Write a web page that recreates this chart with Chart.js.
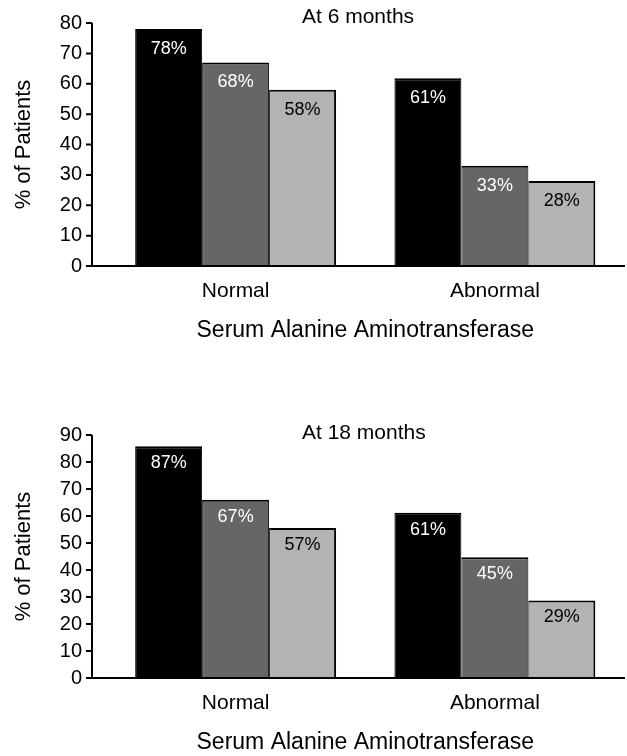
<!DOCTYPE html>
<html>
<head>
<meta charset="utf-8">
<script src="https://cdn.jsdelivr.net/npm/chart.js@4"></script>
<style>
    body { margin: 0; background: #fff; }
    .panel { position: absolute; left: 0; width: 627px; height: 344px; }
</style>
</head>
<body>
<div class="panel" style="top:0"><canvas id="chart6" width="627" height="344"></canvas></div>
<div class="panel" style="top:412px"><canvas id="chart18" width="627" height="344"></canvas></div>
<script>
const categories = ['Normal', 'Abnormal'];
const barColors = ['#000000', '#666666', '#b3b3b3'];
const textColors = ['#ffffff', '#ffffff', '#000000'];

// At 6 months: bar heights as drawn, and the printed percentages
const bars6Black = [78, 61.8];
const bars6Dark = [67, 33];
const bars6Light = [58, 28];
const pct6Black = [78, 61];
const pct6Dark = [68, 33];
const pct6Light = [58, 28];

// At 18 months
const bars18Black = [85.8, 61.2];
const bars18Dark = [66, 44.7];
const bars18Light = [55.6, 28.7];
const pct18Black = [87, 61];
const pct18Dark = [67, 45];
const pct18Light = [57, 29];

const yMax6 = 80;
const yMax18 = 90;
const yStep = 10;

const FONT = 'Liberation Sans, Arial, Helvetica, sans-serif';

// axis lines drawn a little left of the bars, like the original
const axisLines = {
    id: 'axisLines',
    afterDraw(chart) {
        const { ctx, chartArea } = chart;
        const y = chart.scales.y;
        const x0 = chartArea.left - 14;
        const y0 = y.getPixelForValue(0);
        ctx.save();
        ctx.strokeStyle = '#000';
        ctx.lineWidth = 2;
        ctx.beginPath();
        ctx.moveTo(x0, y.getPixelForValue(y.max));
        ctx.lineTo(x0, y0);
        ctx.lineTo(chart.width - 2, y0);
        y.ticks.forEach((t) => {
            const py = y.getPixelForValue(t.value);
            ctx.moveTo(x0 - 6, py);
            ctx.lineTo(x0, py);
        });
        ctx.stroke();
        ctx.restore();
    },
};

const barLabels = {
    id: 'barLabels',
    afterDatasetsDraw(chart, args, opts) {
        const ctx = chart.ctx;
        ctx.save();
        ctx.font = '18px ' + FONT;
        ctx.textAlign = 'center';
        ctx.textBaseline = 'middle';
        chart.data.datasets.forEach((ds, i) => {
            chart.getDatasetMeta(i).data.forEach((bar, j) => {
                ctx.fillStyle = ds.textColor;
                ctx.fillText(ds.pct[j] + '%', bar.x, bar.y + opts.offset);
            });
        });
        // panel heading
        ctx.font = '21px ' + FONT;
        ctx.textAlign = 'left';
        ctx.fillStyle = '#000';
        ctx.fillText(opts.title, 302, opts.titleY);
        ctx.restore();
    },
};

function makeChart(id, black, dark, light, pBlack, pDark, pLight, yMax, title, titleY, offset) {
    const vals = [black, dark, light];
    const pcts = [pBlack, pDark, pLight];
    new Chart(document.getElementById(id), {
        type: 'bar',
        data: {
            labels: categories,
            datasets: vals.map((v, i) => ({
                data: v,
                pct: pcts[i],
                textColor: textColors[i],
                backgroundColor: barColors[i],
                borderColor: '#000',
                borderWidth: { left: 1, right: i == 2 ? 2 : 1, top: 2, bottom: 0 },
                borderSkipped: 'start',
                barPercentage: 1,
                categoryPercentage: 0.775,
            })),
        },
        options: {
            responsive: false,
            animation: false,
            layout: { padding: { top: 23, right: 2.5, left: 0, bottom: 0 } },
            plugins: {
                legend: { display: false },
                tooltip: { enabled: false },
                barLabels: { title: title, titleY: titleY, offset: offset },
            },
            scales: {
                x: {
                    grid: { display: false, drawTicks: false },
                    border: { display: false },
                    ticks: { color: '#000', padding: 13, font: { family: FONT, size: 21 } },
                    title: {
                        display: true,
                        text: 'Serum Alanine Aminotransferase',
                        color: '#000',
                        font: { family: FONT, size: 23 },
                        padding: { top: 15, bottom: 0 },
                    },
                    afterFit: (s) => { s.height = 78; },
                },
                y: {
                    min: 0,
                    max: yMax,
                    grid: { display: false, drawTicks: false },
                    border: { display: false },
                    ticks: { stepSize: yStep, autoSkip: false, color: '#000', padding: 24, font: { family: FONT, size: 20 } },
                    title: {
                        display: true,
                        text: '% of Patients',
                        color: '#000',
                        font: { family: FONT, size: 22 },
                        padding: { top: 11, bottom: 0 },
                    },
                    afterFit: (s) => {
                        s.width = 106;
                        s.paddingTop = 0; // keep the tick padding from pushing the plot down
                        s.paddingBottom = 0;
                    },
                },
            },
        },
        plugins: [axisLines, barLabels],
    });
}

makeChart('chart6', bars6Black, bars6Dark, bars6Light, pct6Black, pct6Dark, pct6Light, yMax6, 'At 6 months', 17, 20);
makeChart('chart18', bars18Black, bars18Dark, bars18Light, pct18Black, pct18Dark, pct18Light, yMax18, 'At 18 months', 21, 17);
</script>
</body>
</html>
